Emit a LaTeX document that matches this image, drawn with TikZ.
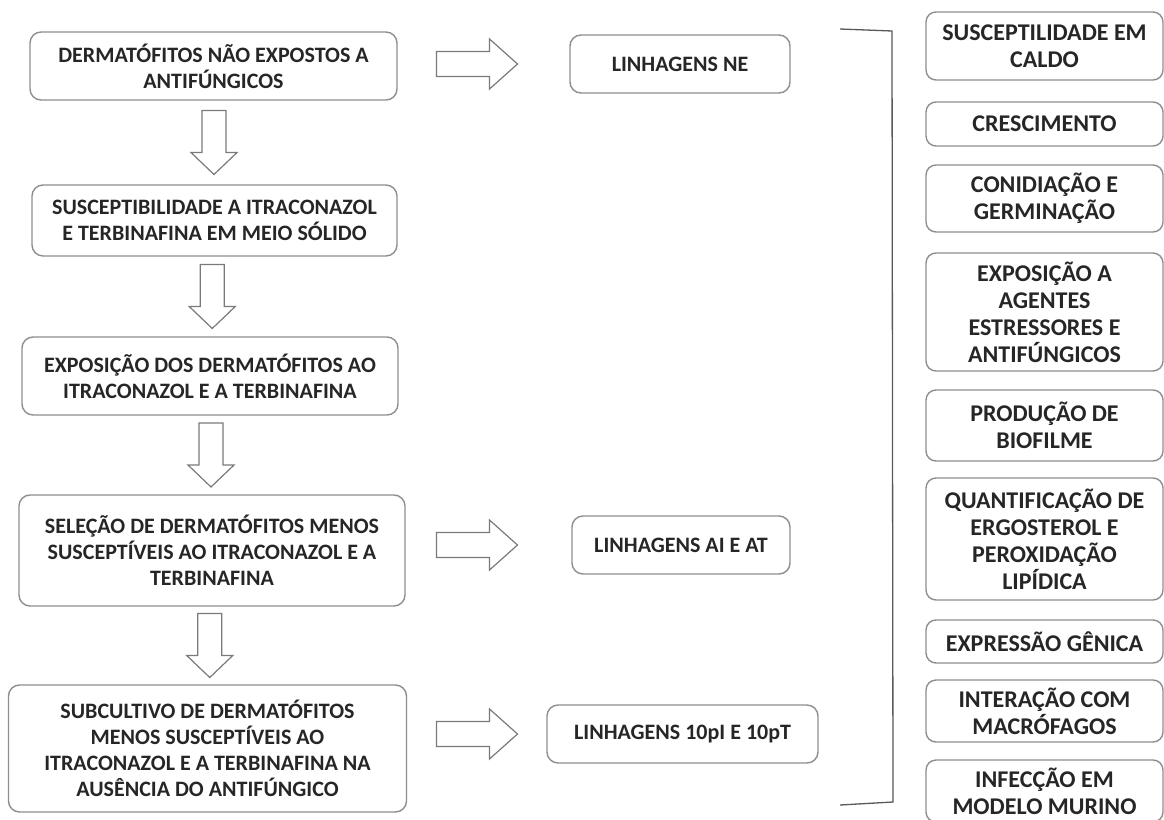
\documentclass[tikz,border=0pt]{standalone}
\usepackage{fontspec}
\setmainfont{Carlito}
\usetikzlibrary{calc}
\definecolor{borda}{HTML}{8E8E8E}
\definecolor{texto}{HTML}{262626}
\definecolor{contorno}{HTML}{7A7A7A}

\tikzset{
	caixa/.style={draw=borda, line width=1.4pt, rounded corners=11pt, fill=white,
		align=center, text=texto, inner sep=0pt,
		font=\fontsize{22}{26}\selectfont\bfseries},
	caixadir/.style={caixa, rounded corners=10pt, minimum width=237pt,
		font=\fontsize{24}{27}\selectfont\bfseries},
	setabaixo/.pic={
		\draw[draw=contorno, line width=1.2pt, fill=white]
			(-12,-32) -- (12,-32) -- (12,10) -- (23,10) -- (0,32)
			-- (-23,10) -- (-12,10) -- cycle;
	},
	setadireita/.pic={
		\draw[draw=contorno, line width=1.2pt, fill=white]
			(-40,-12.5) -- (13,-12.5) -- (13,-25) -- (41,0) -- (13,25)
			-- (13,12.5) -- (-40,12.5) -- cycle;
	}
}

\begin{document}
\begin{tikzpicture}[x=1pt, y=-1pt]

	\path[use as bounding box] (0,0) rectangle (1164,819);
	\fill[white] (0,0) rectangle (1164,819);
	\clip (0,0) rectangle (1164,819);

	% coluna da esquerda
	\node[caixa, minimum width=367pt, minimum height=68pt] (b1) at (213.5,66)
		{DERMATÓFITOS NÃO EXPOSTOS A\\ANTIFÚNGICOS};
	\node[caixa, minimum width=365pt, minimum height=71pt] (b2) at (214.5,220.5)
		{SUSCEPTIBILIDADE A ITRACONAZOL\\E TERBINAFINA EM MEIO SÓLIDO};
	\node[caixa, minimum width=376pt, minimum height=78pt] (b3) at (210,376)
		{EXPOSIÇÃO DOS DERMATÓFITOS AO\\ITRACONAZOL E A TERBINAFINA};
	\node[caixa, minimum width=386pt, minimum height=111pt] (b4) at (212,550.5)
		{SELEÇÃO DE DERMATÓFITOS MENOS\\SUSCEPTÍVEIS AO ITRACONAZOL E A\\TERBINAFINA};
	\node[caixa, minimum width=398pt, minimum height=127pt] (b5) at (207.5,748.5)
		{SUBCULTIVO DE DERMATÓFITOS\\MENOS SUSCEPTÍVEIS AO\\ITRACONAZOL E A TERBINAFINA NA\\AUSÊNCIA DO ANTIFÚNGICO};

	% linhagens
	\node[caixa, minimum width=220pt, minimum height=58pt] (m1) at (680,64)
		{LINHAGENS NE};
	\node[caixa, minimum width=218pt, minimum height=58pt] (m2) at (681,545)
		{LINHAGENS AI E AT};
	\node[caixa, minimum width=271pt, minimum height=58pt] (m3) at (682.5,734)
		{LINHAGENS 10pI E 10pT};

	% setas
	\pic at ($(b1.south)!0.5!(b2.north)$) {setabaixo};
	\pic at ($(b2.south)!0.5!(b3.north)$) {setabaixo};
	\pic at ($(b3.south)!0.5!(b4.north)$) {setabaixo};
	\pic at ($(b4.south)!0.5!(b5.north)$) {setabaixo};

	\coordinate (colseta) at (476.5,0);
	\pic at (colseta |- m1) {setadireita};
	\pic at (colseta |- m2) {setadireita};
	\pic at (colseta |- m3) {setadireita};

	% chave
	\coordinate (ch1) at (840,29);
	\coordinate (ch2) at (892,31);
	\coordinate (ch3) at (893,802);
	\coordinate (ch4) at (840,805);
	\draw[draw=black!65, line width=1.3pt] (ch1) -- (ch2) -- (ch3) -- (ch4);

	% ensaios
	\node[caixadir, minimum height=68pt] (e1) at (1044.5,46)
		{SUSCEPTILIDADE EM\\CALDO};
	\node[caixadir, minimum height=44pt] (e2) at (1044.5,124)
		{CRESCIMENTO};
	\node[caixadir, minimum height=67pt] (e3) at (1044.5,198.5)
		{CONIDIAÇÃO E\\GERMINAÇÃO};
	\node[caixadir, minimum height=118pt] (e4) at (1044.5,312)
		{EXPOSIÇÃO A\\AGENTES\\ESTRESSORES E\\ANTIFÚNGICOS};
	\node[caixadir, minimum height=71pt] (e5) at (1044.5,425.5)
		{PRODUÇÃO DE\\BIOFILME};
	\node[caixadir, minimum height=122pt] (e6) at (1044.5,539)
		{QUANTIFICAÇÃO DE\\ERGOSTEROL E\\PEROXIDAÇÃO\\LIPÍDICA};
	\node[caixadir, minimum height=43pt] (e7) at (1044.5,641.5)
		{EXPRESSÃO GÊNICA};
	\node[caixadir, minimum height=62pt] (e8) at (1044.5,711)
		{INTERAÇÃO COM\\MACRÓFAGOS};
	\node[caixadir, minimum height=62pt] (e9) at (1044.5,791)
		{INFECÇÃO EM\\MODELO MURINO};

\end{tikzpicture}
\end{document}
